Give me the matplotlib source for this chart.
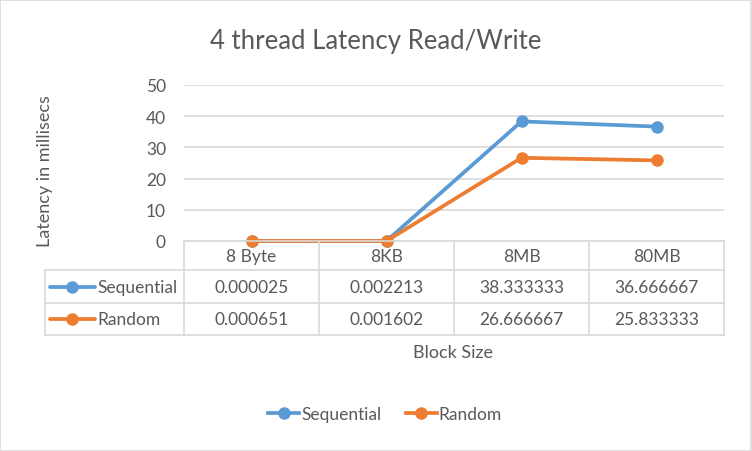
import matplotlib

matplotlib.use("Agg")
import matplotlib.pyplot as plt
import matplotlib.transforms as mtransforms
from matplotlib.lines import Line2D
from matplotlib.patches import Rectangle

CATEGORIES = ["8 Byte", "8KB", "8MB", "80MB"]
SEQUENTIAL = [0.000025, 0.002213, 38.333333, 36.666667]
RANDOM = [0.000651, 0.001602, 26.666667, 25.833333]
SEQ_LABELS = ["0.000025", "0.002213", "38.333333", "36.666667"]
RND_LABELS = ["0.000651", "0.001602", "26.666667", "25.833333"]
Y_TICKS = [0, 10, 20, 30, 40, 50]

BLUE = "#5B9BD5"
ORANGE = "#ED7D31"
TEXT = "#595959"
GRID = "#D9D9D9"

W, H = 752, 452
plt.rcParams["font.family"] = ["Lato", "DejaVu Sans"]


def fx(px: float) -> float:
    return px / W


def fy(py: float) -> float:
    return 1 - py / H


fig = plt.figure(figsize=(W / 100, H / 100), dpi=100)
fig.patch.set_facecolor("white")
fig.add_artist(Rectangle((0.0005, 0.001), 0.998, 0.997, transform=fig.transFigure,
                         fill=False, edgecolor=GRID, linewidth=1.2))

ax = fig.add_axes([fx(184), fy(242), fx(724) - fx(184), fy(86) - fy(242)])
x = list(range(len(CATEGORIES)))
ax.plot(x, SEQUENTIAL, color=BLUE, linewidth=2.7, marker="o", markersize=8,
        solid_capstyle="round", zorder=3, clip_on=False)
ax.plot(x, RANDOM, color=ORANGE, linewidth=2.7, marker="o", markersize=8,
        solid_capstyle="round", zorder=4, clip_on=False)
ax.set_xlim(-0.5, len(CATEGORIES) - 0.5)
ax.set_ylim(0, 50)
ax.set_yticks(Y_TICKS)
ax.set_xticks([])
ax.tick_params(axis="y", length=0, pad=13, labelsize=12.5, labelcolor=TEXT)
ax.grid(axis="y", color=GRID, linewidth=1.2)
ax.set_axisbelow(True)
for s in ax.spines.values():
    s.set_visible(False)

fig.text(0.5, fy(42), "4 thread Latency Read/Write", ha="center", va="center",
         fontsize=18.5, color=TEXT)
fig.text(fx(45), fy(171), "Latency in millisecs", rotation=90, ha="center",
         va="center", fontsize=13, color=TEXT)
fig.text(fx(453), fy(353), "Block Size", ha="center", va="center",
         fontsize=13, color=TEXT)

# data table under the plot
col_edges = [184, 319, 454, 589, 724]
for xe in col_edges:
    fig.add_artist(Line2D([fx(xe), fx(xe)], [fy(242), fy(336)], color=GRID, linewidth=1.2))
fig.add_artist(Line2D([fx(45), fx(45)], [fy(271), fy(336)], color=GRID, linewidth=1.2))
fig.add_artist(Line2D([fx(184), fx(724)], [fy(242), fy(242)], color=GRID, linewidth=1.2))
for ye in [271, 304, 336]:
    fig.add_artist(Line2D([fx(45), fx(724)], [fy(ye), fy(ye)], color=GRID, linewidth=1.2))

trans = mtransforms.blended_transform_factory(ax.transData, fig.transFigure)
for i, cat in enumerate(CATEGORIES):
    fig.text(i, fy(257), cat, transform=trans, ha="center", va="center",
             fontsize=12.5, color=TEXT)
    fig.text(i, fy(288), SEQ_LABELS[i], transform=trans, ha="center", va="center",
             fontsize=12.5, color=TEXT)
    fig.text(i, fy(320), RND_LABELS[i], transform=trans, ha="center", va="center",
             fontsize=12.5, color=TEXT)

for name, color, yrow in [("Sequential", BLUE, 288), ("Random", ORANGE, 320)]:
    fig.add_artist(Line2D([fx(50), fx(95)], [fy(yrow), fy(yrow)], color=color,
                          linewidth=2.7, solid_capstyle="round"))
    fig.add_artist(Line2D([fx(72)], [fy(yrow)], color=color, marker="o", markersize=8))
    fig.text(fx(97), fy(yrow), name, ha="left", va="center", fontsize=12.5, color=TEXT)

handles = [
    Line2D([], [], color=BLUE, linewidth=2.7, marker="o", markersize=8),
    Line2D([], [], color=ORANGE, linewidth=2.7, marker="o", markersize=8),
]
fig.legend(handles, ["Sequential", "Random"], loc="center", ncol=2,
           bbox_to_anchor=(fx(385), fy(415)), frameon=False, fontsize=12.5,
           labelcolor=TEXT, handlelength=1.8, handletextpad=0.1, columnspacing=1.4)

fig.savefig("out.png", dpi=100)
